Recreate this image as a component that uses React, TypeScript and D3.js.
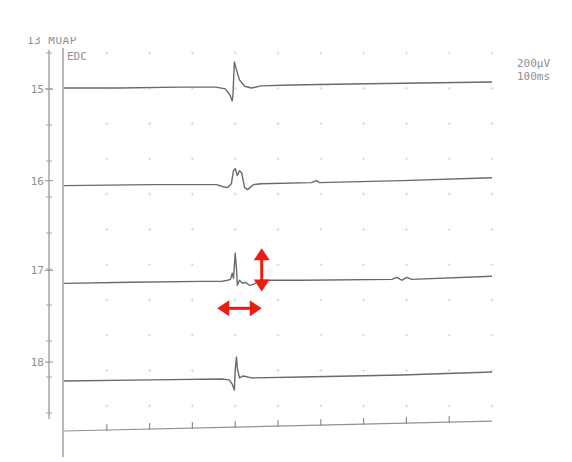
import React from "react";
import * as d3 from "d3";

const channels = [15, 16, 17, 18];
// [time ms, amplitude µV]
const trace15: [number, number][] = [[0,0],[130,0],[270,5],[355,5],[377,-5],[388,-40],[393,-72],[395,-30],[398,145],[403,100],[410,45],[422,10],[438,0],[460,12],[530,17],[670,22],[835,28],[1000,33]];
const trace16: [number, number][] = [[0,0],[204,6],[356,6],[372,-6],[382,-11],[391,11],[396,83],[400,95],[405,56],[410,83],[415,72],[422,-11],[429,-22],[443,6],[461,11],[578,17],[590,28],[597,17],[789,28],[1000,44]];
const trace17: [number, number][] = [[0,0],[157,6],[321,11],[368,11],[382,17],[389,22],[393,56],[396,28],[400,167],[403,83],[405,-11],[410,17],[417,0],[424,6],[433,-11],[443,-6],[457,17],[555,17],[766,22],[778,33],[789,17],[801,33],[813,22],[1000,39]];
const trace18: [number, number][] = [[0,0],[204,6],[368,11],[386,6],[393,-17],[398,-50],[400,61],[403,133],[405,72],[410,17],[419,28],[438,17],[555,22],[789,33],[1000,50]];
const traces = [trace15, trace16, trace17, trace18];
const axisLine: [number, number][] = [[0, 0], [1000, 55]];
const timeTicks = [100, 200, 300, 400, 500, 600, 700, 800, 900, 1000];
const gridRows = [0, 1, 2, 3, 4, 5, 6, 7, 8, 9, 10];
const header = "13 MUAP";
const muscle = "EDC";
const scaleLabels = ["200µV", "100ms"];
// annotations: duration arrow (ms) and amplitude arrow (µV) on channel 17
const durationSpan = [358, 462];
const amplitudeSpan = [-45, 195];

export default function App() {
  const W = 572, H = 462;
  const x = d3.scaleLinear().domain([0, 1000]).range([64, 492]);
  const base = d3.scaleLinear().domain([15, 18]).range([88, 381]);
  const amp = d3.scaleLinear().domain([0, 200]).range([0, 36]);
  const rowY = d3.scaleLinear().domain([0, 10]).range([53, 413]);
  const line = (b: number) =>
    d3.line<[number, number]>().x(d => x(d[0])).y(d => b - amp(d[1])).curve(d3.curveLinear);
  const axisBase = 431;
  const drift = d3.scaleLinear().domain([0, 1000]).range([0, 55]);
  const axisY = (t: number) => axisBase - amp(drift(t));
  const red = "#ec1c12";
  const gray = "#909090";
  const font = "'DejaVu Sans Mono', monospace";

  const vx = x(462);
  const vTop = base(17) - amp(amplitudeSpan[1]);
  const vBot = base(17) - amp(amplitudeSpan[0]);
  const hy = base(17) + 25;
  const hx1 = x(durationSpan[0]);
  const hx2 = x(durationSpan[1]);
  const hl = 10, hw = 8, sw = 3;

  const labelShift: Record<number, number> = { 15: 1, 16: -5, 17: -13, 18: -19 };

  return (
    <svg width={W} height={H} style={{ position: "absolute", left: 0, top: 0, background: "#fff" }}>
      <defs>
        <clipPath id="clipTop"><rect x={0} y={37} width={W} height={H} /></clipPath>
      </defs>
      {/* grid dots */}
      {gridRows.map(r =>
        timeTicks.map(t => {
          const gy = rowY(r) - amp(r * 4);
          return (
            <g key={`${r}-${t}`} stroke="#dadada" strokeWidth={1}>
              <line x1={x(t) - 1.5} x2={x(t) + 1.5} y1={gy} y2={gy} />
              <line x1={x(t)} x2={x(t)} y1={gy - 1.5} y2={gy + 1.5} />
            </g>
          );
        })
      )}
      {/* left label axis */}
      <line x1={49} x2={49} y1={50} y2={419} stroke={gray} strokeWidth={1.2} />
      {gridRows.map(r => (
        <line key={r} x1={46} x2={52} y1={rowY(r)} y2={rowY(r)} stroke="#a8a8a8" strokeWidth={1} />
      ))}
      {channels.map(c => (
        <g key={c}>
          <line x1={45} x2={53} y1={base(c) + labelShift[c]} y2={base(c) + labelShift[c]} stroke={gray} strokeWidth={1} />
          <text x={44} y={base(c) + labelShift[c] + 4} textAnchor="end" fontFamily={font} fontSize={11} fill={gray}>{c}</text>
        </g>
      ))}
      {/* inner vertical axis */}
      <line x1={63} x2={63} y1={48} y2={457} stroke={gray} strokeWidth={1.3} />
      {/* bottom time axis */}
      <path d={d3.line<[number, number]>().x(d => x(d[0])).y(d => axisY(d[0]))(axisLine) || ""} fill="none" stroke={gray} strokeWidth={1.2} />
      {timeTicks.slice(0, 9).map(t => (
        <line key={t} x1={x(t)} x2={x(t)} y1={axisY(t) + 1} y2={axisY(t) - 6} stroke={gray} strokeWidth={1.2} />
      ))}
      {/* traces */}
      {traces.map((tr, i) => (
        <path key={i} d={line(base(channels[i]))(tr) || ""} fill="none" stroke="#6a6a6a" strokeWidth={1.4} strokeLinejoin="round" />
      ))}
      {/* text */}
      <text x={27} y={44} fontFamily={font} fontSize={11} fill={gray} clipPath="url(#clipTop)" letterSpacing={0.5}>{header}</text>
      <text x={67} y={60} fontFamily={font} fontSize={11} fill={gray}>{muscle}</text>
      {scaleLabels.map((s, i) => (
        <text key={s} x={517} y={67 + i * 13} fontFamily={font} fontSize={11} fill={gray}>{s}</text>
      ))}
      {/* red arrows */}
      <g fill={red} stroke="none">
        <rect x={vx - sw / 2} y={vTop + hl - 1} width={sw} height={vBot - vTop - 2 * hl + 2} />
        <polygon points={`${vx},${vTop} ${vx - hw},${vTop + hl + 2} ${vx + hw},${vTop + hl + 2}`} />
        <polygon points={`${vx},${vBot} ${vx - hw},${vBot - hl - 2} ${vx + hw},${vBot - hl - 2}`} />
        <rect x={hx1 + hl - 1} y={hy - sw / 2} width={hx2 - hx1 - 2 * hl + 2} height={sw} />
        <polygon points={`${hx1},${hy} ${hx1 + hl + 2},${hy - hw} ${hx1 + hl + 2},${hy + hw}`} />
        <polygon points={`${hx2},${hy} ${hx2 - hl - 2},${hy - hw} ${hx2 - hl - 2},${hy + hw}`} />
      </g>
    </svg>
  );
}
